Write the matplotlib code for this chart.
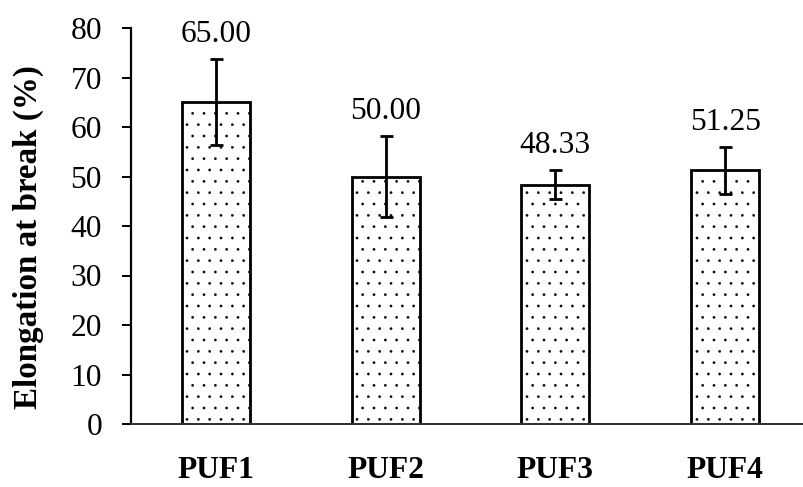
import matplotlib
matplotlib.use("Agg")
import matplotlib.pyplot as plt
import numpy as np

# data
samples = ["PUF1", "PUF2", "PUF3", "PUF4"]
elongation = [65.00, 50.00, 48.33, 51.25]
elongation_err = [8.7, 8.1, 2.9, 4.8]
y_ticks = [0, 10, 20, 30, 40, 50, 60, 70, 80]

W, H = 803, 487
DPI = 136          # chosen so the '..' hatch has about the reference dot spacing
PT = 72 / DPI      # pixels -> points

plt.rcParams["font.family"] = ["Liberation Serif", "DejaVu Serif"]
plt.rcParams["hatch.linewidth"] = 0.2

fig = plt.figure(figsize=(W / DPI, H / DPI), dpi=DPI)
ax = fig.add_axes([131 / W, (H - 424) / H, 679 / W, 396 / H])

x = np.arange(len(samples))
ax.bar(x, elongation, width=0.4, color="white", edgecolor="black",
       linewidth=2.8 * PT, hatch="..", zorder=2)
ax.errorbar(x, elongation, yerr=elongation_err, fmt="none", ecolor="black",
            elinewidth=2.8 * PT, capsize=6.5 * PT, capthick=2.8 * PT, zorder=3)

for xi, v, e in zip(x, elongation, elongation_err):
    ax.annotate(f"{v:.2f}", xy=(xi, v + e), xytext=(0, 17 * PT),
                textcoords="offset points", ha="center", va="baseline",
                fontsize=31.5 * PT)

ax.set_xlim(-0.5, len(samples) - 0.5)
ax.set_ylim(0, 80)
ax.set_yticks(y_ticks)
ax.set_xticks(x)
ax.set_xticklabels(samples, fontweight="bold")

ax.tick_params(axis="y", direction="out", length=9 * PT, width=2 * PT,
               pad=20 * PT, labelsize=31.5 * PT)
ax.tick_params(axis="x", length=0, pad=32 * PT, labelsize=31.5 * PT)

for s in ["top", "right"]:
    ax.spines[s].set_visible(False)
ax.spines["left"].set_linewidth(2.2 * PT)
ax.spines["bottom"].set_linewidth(2 * PT)
ax.spines["bottom"].set_color("#333333")

ax.set_ylabel("Elongation at break (%)", fontweight="bold", fontsize=33 * PT)
ax.yaxis.set_label_coords((28 - 131) / 679, (424 - 237) / 396)
ax.yaxis.label.set_verticalalignment("center")

fig.savefig("out.png", dpi=DPI)
